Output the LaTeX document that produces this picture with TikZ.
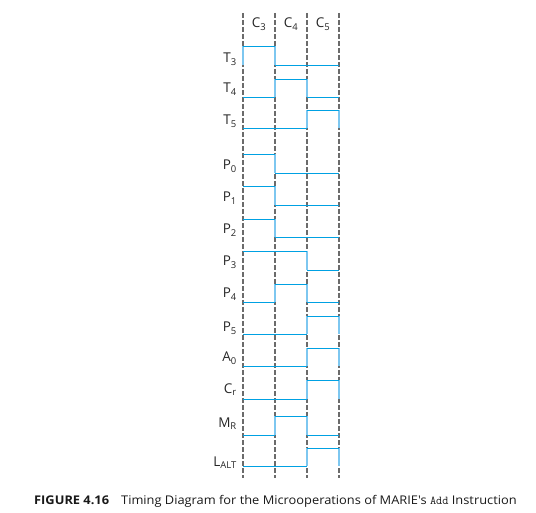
\documentclass[tikz,border=0pt]{standalone}
\usepackage{fontspec}
\setmainfont{Open Sans}
\newfontfamily\capfont[FakeStretch=1.07]{Open Sans}
\usepackage{tikz}
\definecolor{wave blue}{rgb}{0.0, 0.63, 0.89}
\definecolor{edge blue}{rgb}{0.49, 0.78, 0.94}
\definecolor{clock gray}{rgb}{0.42, 0.42, 0.42}
\definecolor{label gray}{rgb}{0.15, 0.15, 0.15}

\begin{document}
\begin{tikzpicture}[x=1pt, y=-1pt,
		sig/.style = {draw=wave blue, line width=0.95pt},
		rise/.style = {draw=edge blue, line width=2pt},
		clk/.style = {draw=clock gray, line width=1.6pt, dash pattern=on 5pt off 2pt},
		lbl/.style = {anchor=base east, text=label gray, inner sep=0pt, font=\fontsize{13.5}{15}\selectfont}]
	\useasboundingbox (0, 0) rectangle (536, 513);
	% clock periods
	\draw[clk] (243, 13) -- (243, 478)
		(275, 13) -- (275, 478)
		(307, 13) -- (307, 478)
		(339, 13) -- (339, 478);
	\node[lbl, anchor=base] (hC3) at (259, 28) {C\textsubscript{3}};
	\node[lbl, anchor=base] (hC4) at (291, 28) {C\textsubscript{4}};
	\node[lbl, anchor=base] (hC5) at (323, 28) {C\textsubscript{5}};
	% signal names
	\node[lbl] (lT3) at (237, 63) {T\textsubscript{3}};
	\node[lbl] (lT4) at (237, 93) {T\textsubscript{4}};
	\node[lbl] (lT5) at (237, 125) {T\textsubscript{5}};
	\node[lbl] (lP0) at (237, 170) {P\textsubscript{0}};
	\node[lbl] (lP1) at (237, 202) {P\textsubscript{1}};
	\node[lbl] (lP2) at (237, 234) {P\textsubscript{2}};
	\node[lbl] (lP3) at (237, 266) {P\textsubscript{3}};
	\node[lbl] (lP4) at (237, 298) {P\textsubscript{4}};
	\node[lbl] (lP5) at (237, 332) {P\textsubscript{5}};
	\node[lbl] (lA0) at (237, 362) {A\textsubscript{0}};
	\node[lbl] (lCr) at (237, 393) {C\textsubscript{r}};
	\node[lbl] (lMR) at (237, 427) {M\textsubscript{R}};
	\node[lbl] (lLALT) at (237, 466) {L\textsubscript{ALT}};
	% edges
	\draw[rise]
		(243, 46) -- (243, 65)   (275, 46) -- (275, 65)
		(275, 79) -- (275, 97)   (307, 79) -- (307, 97)
		(307, 110) -- (307, 128) (339, 110) -- (339, 128)
		(275, 154) -- (275, 173)
		(275, 186) -- (275, 205)
		(275, 219) -- (275, 237)
		(307, 251) -- (307, 270)
		(275, 284) -- (275, 302) (307, 284) -- (307, 302)
		(307, 316) -- (307, 334) (339, 316) -- (339, 334)
		(307, 348) -- (307, 366) (339, 348) -- (339, 366)
		(307, 380) -- (307, 399) (339, 380) -- (339, 399)
		(275, 416) -- (275, 435) (307, 416) -- (307, 435)
		(307, 448) -- (307, 466) (339, 448) -- (339, 466);
	% levels
	\draw[sig]
		(243, 46) -- (275, 46)   (275, 65) -- (339, 65)
		(243, 97) -- (275, 97)   (275, 79) -- (307, 79)   (307, 97) -- (339, 97)
		(243, 128) -- (307, 128) (307, 110) -- (339, 110)
		(243, 154) -- (275, 154) (275, 173) -- (339, 173)
		(243, 186) -- (275, 186) (275, 205) -- (339, 205)
		(243, 219) -- (275, 219) (275, 237) -- (339, 237)
		(243, 251) -- (307, 251) (307, 270) -- (339, 270)
		(243, 302) -- (275, 302) (275, 284) -- (307, 284) (307, 302) -- (339, 302)
		(243, 334) -- (307, 334) (307, 316) -- (339, 316)
		(243, 366) -- (307, 366) (307, 348) -- (339, 348)
		(243, 399) -- (307, 399) (307, 380) -- (339, 380)
		(243, 435) -- (275, 435) (275, 416) -- (307, 416) (307, 435) -- (339, 435)
		(243, 466) -- (307, 466) (307, 448) -- (339, 448);
	% caption
	\node[anchor=base west, inner sep=0pt, text=black!90, font=\capfont\fontsize{12}{14}\selectfont] (caption) at (34, 504)
		{\textbf{FIGURE 4.16}\hspace{1em}Timing Diagram for the Microoperations of MARIE's {\ttfamily Add} Instruction};
\end{tikzpicture}
\end{document}
